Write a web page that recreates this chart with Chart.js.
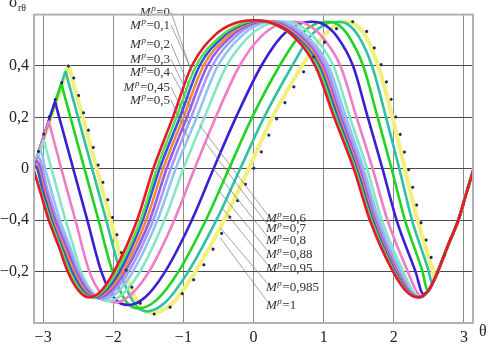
<!DOCTYPE html>
<html>
<head>
<meta charset="utf-8">
<script src="https://cdn.jsdelivr.net/npm/chart.js@4.4.1/dist/chart.umd.min.js"></script>
<style>
  html, body { margin: 0; padding: 0; background: #fff; }
  #wrap { width: 490px; height: 344px; }
</style>
</head>
<body>
<div id="wrap"><canvas id="chart" width="490" height="344"></canvas></div>
<script>
// tick positions and labels as printed on the figure
const xTicks = [-3, -2, -1, 0, 1, 2, 3];
const yTicks = [-0.4, -0.2, 0, 0.2, 0.4];
const yTickLabels = ["\u22120,2", "\u22120,4", "0", "0,2", "0,4"];

// M^p values for each curve
const mValues = ["0", "0,1", "0,2", "0,3", "0,4", "0,45", "0,5", "0,6", "0,7", "0,8", "0,88", "0,95", "0,985", "1"];

// curves: [theta, sigma]
const mp0 = [[-3.14,0],[-3.03,-0.1],[-2.92,-0.2],[-2.78,-0.3],[-2.65,-0.4],[-2.5,-0.472],[-2.35,-0.5],[-2.19,-0.48],[-1.99,-0.4],[-1.66,-0.2],[-1.43,0],[-1.15,0.2],[-0.88,0.4],[-0.55,0.52],[-0.27,0.566],[0,0.578],[0.27,0.566],[0.55,0.52],[0.88,0.4],[1.15,0.2],[1.43,0],[1.66,-0.2],[1.99,-0.4],[2.19,-0.48],[2.35,-0.5],[2.5,-0.472],[2.62,-0.405],[2.77,-0.3],[2.92,-0.2],[3.03,-0.1],[3.14,0]];
const mp01 = [[-3.14,0],[-3.03,-0.09],[-2.9,-0.2],[-2.76,-0.3],[-2.62,-0.4],[-2.47,-0.472],[-2.32,-0.5],[-2.15,-0.477],[-1.95,-0.4],[-1.61,-0.2],[-1.38,0],[-1.1,0.2],[-0.82,0.4],[-0.47,0.515],[-0.19,0.562],[0.05,0.577],[0.29,0.562],[0.57,0.515],[0.91,0.4],[1.175,0.2],[1.45,0],[1.68,-0.2],[2.005,-0.4],[2.2,-0.48],[2.36,-0.5],[2.5,-0.472],[2.62,-0.405],[2.77,-0.3],[2.92,-0.2],[3.03,-0.1],[3.14,0]];
const mp02 = [[-3.14,0],[-3.11,0.01],[-3.0,-0.09],[-2.88,-0.2],[-2.74,-0.3],[-2.59,-0.4],[-2.44,-0.472],[-2.29,-0.5],[-2.12,-0.477],[-1.91,-0.4],[-1.58,-0.2],[-1.34,0],[-1.05,0.2],[-0.77,0.4],[-0.43,0.515],[-0.15,0.562],[0.09,0.576],[0.33,0.562],[0.6,0.515],[0.935,0.4],[1.2,0.2],[1.47,0],[1.7,-0.2],[2.02,-0.4],[2.21,-0.48],[2.365,-0.5],[2.5,-0.472],[2.62,-0.405],[2.77,-0.3],[2.92,-0.2],[3.03,-0.1],[3.14,0]];
const mp03 = [[-3.14,0],[-3.1,0.016],[-2.98,-0.09],[-2.86,-0.2],[-2.71,-0.3],[-2.56,-0.4],[-2.41,-0.472],[-2.26,-0.5],[-2.085,-0.477],[-1.87,-0.4],[-1.53,-0.2],[-1.29,0],[-1.0,0.2],[-0.715,0.4],[-0.37,0.515],[-0.1,0.562],[0.14,0.576],[0.37,0.562],[0.635,0.515],[0.965,0.4],[1.22,0.2],[1.49,0],[1.715,-0.2],[2.035,-0.4],[2.22,-0.48],[2.37,-0.5],[2.5,-0.472],[2.62,-0.405],[2.77,-0.3],[2.92,-0.2],[3.03,-0.1],[3.14,0]];
const mp04 = [[-3.14,0],[-3.09,0.03],[-2.96,-0.09],[-2.83,-0.2],[-2.68,-0.3],[-2.53,-0.4],[-2.375,-0.472],[-2.22,-0.502],[-2.045,-0.478],[-1.83,-0.4],[-1.48,-0.2],[-1.24,0],[-0.95,0.2],[-0.66,0.4],[-0.32,0.515],[-0.05,0.562],[0.19,0.575],[0.41,0.562],[0.67,0.515],[0.99,0.4],[1.245,0.2],[1.51,0],[1.73,-0.2],[2.05,-0.4],[2.23,-0.48],[2.37,-0.5],[2.5,-0.472],[2.62,-0.405],[2.77,-0.3],[2.92,-0.2],[3.03,-0.1],[3.14,0]];
const mp045 = [[-3.14,0],[-3.07,0.045],[-2.94,-0.08],[-2.8,-0.2],[-2.65,-0.3],[-2.5,-0.4],[-2.345,-0.474],[-2.19,-0.505],[-2.005,-0.48],[-1.78,-0.4],[-1.43,-0.2],[-1.18,0],[-0.89,0.2],[-0.59,0.4],[-0.255,0.515],[0.01,0.562],[0.245,0.574],[0.465,0.562],[0.715,0.515],[1.03,0.4],[1.28,0.2],[1.54,0],[1.76,-0.2],[2.075,-0.4],[2.24,-0.48],[2.375,-0.5],[2.5,-0.472],[2.62,-0.405],[2.77,-0.3],[2.92,-0.2],[3.03,-0.1],[3.14,0]];
const mp05 = [[-3.14,0],[-3.04,0.07],[-2.97,0],[-2.76,-0.2],[-2.62,-0.3],[-2.49,-0.4],[-2.31,-0.48],[-2.14,-0.508],[-1.95,-0.483],[-1.72,-0.4],[-1.37,-0.2],[-1.11,0],[-0.81,0.2],[-0.51,0.4],[-0.18,0.515],[0.084,0.562],[0.315,0.574],[0.53,0.562],[0.77,0.515],[1.07,0.4],[1.32,0.2],[1.57,0],[1.79,-0.2],[2.1,-0.4],[2.26,-0.48],[2.38,-0.5],[2.5,-0.472],[2.62,-0.405],[2.77,-0.3],[2.92,-0.2],[3.03,-0.1],[3.14,0]];
const mp06 = [[-3.14,0],[-3.02,0.085],[-2.99,0.11],[-2.96,0.08],[-2.88,0],[-2.68,-0.2],[-2.57,-0.3],[-2.46,-0.4],[-2.28,-0.485],[-2.07,-0.515],[-1.87,-0.488],[-1.62,-0.4],[-1.27,-0.2],[-1.0,0],[-0.7,0.2],[-0.385,0.4],[-0.063,0.515],[0.195,0.562],[0.42,0.573],[0.62,0.562],[0.85,0.515],[1.14,0.4],[1.375,0.2],[1.62,0],[1.83,-0.2],[2.135,-0.4],[2.28,-0.48],[2.385,-0.5],[2.5,-0.472],[2.62,-0.405],[2.77,-0.3],[2.92,-0.2],[3.03,-0.1],[3.14,0]];
const mp07 = [[-3.14,0],[-2.95,0.16],[-2.92,0.184],[-2.89,0.154],[-2.74,0],[-2.54,-0.2],[-2.34,-0.4],[-2.16,-0.49],[-1.97,-0.52],[-1.75,-0.49],[-1.49,-0.4],[-1.13,-0.2],[-0.84,0],[-0.54,0.2],[-0.2,0.4],[0.11,0.515],[0.36,0.562],[0.575,0.572],[0.76,0.562],[0.975,0.515],[1.24,0.4],[1.47,0.2],[1.7,0],[1.91,-0.2],[2.2,-0.4],[2.31,-0.47],[2.4,-0.497],[2.5,-0.472],[2.62,-0.405],[2.77,-0.3],[2.92,-0.2],[3.03,-0.1],[3.14,0]];
const mp08 = [[-3.14,0],[-2.86,0.237],[-2.83,0.26],[-2.8,0.23],[-2.57,0],[-2.37,-0.2],[-2.17,-0.4],[-1.98,-0.505],[-1.78,-0.53],[-1.545,-0.5],[-1.26,-0.4],[-0.88,-0.2],[-0.57,0],[-0.25,0.2],[0.11,0.4],[0.4,0.515],[0.635,0.562],[0.84,0.572],[1.0,0.562],[1.19,0.515],[1.42,0.4],[1.63,0.2],[1.84,0],[2.04,-0.2],[2.31,-0.4],[2.42,-0.487],[2.5,-0.472],[2.62,-0.405],[2.77,-0.3],[2.92,-0.2],[3.03,-0.1],[3.14,0]];
const mp088 = [[-3.14,0],[-2.77,0.306],[-2.74,0.33],[-2.71,0.3],[-2.41,0],[-2.21,-0.2],[-2.01,-0.4],[-1.82,-0.515],[-1.64,-0.543],[-1.38,-0.51],[-1.07,-0.4],[-0.68,-0.2],[-0.35,0],[-0.02,0.2],[0.37,0.4],[0.65,0.515],[0.87,0.562],[1.06,0.572],[1.2,0.562],[1.36,0.515],[1.565,0.4],[1.77,0.2],[1.97,0],[2.16,-0.2],[2.41,-0.4],[2.48,-0.472],[2.62,-0.405],[2.77,-0.3],[2.92,-0.2],[3.03,-0.1],[3.14,0]];
const mp095 = [[-3.14,0],[-2.71,0.355],[-2.68,0.378],[-2.65,0.348],[-2.3,0],[-2.1,-0.2],[-1.9,-0.4],[-1.72,-0.515],[-1.53,-0.555],[-1.26,-0.52],[-0.93,-0.4],[-0.53,-0.2],[-0.19,0],[0.15,0.2],[0.55,0.4],[0.81,0.515],[1.025,0.562],[1.21,0.572],[1.345,0.562],[1.5,0.515],[1.69,0.4],[1.89,0.2],[2.08,0],[2.26,-0.2],[2.5,-0.4],[2.545,-0.447],[2.62,-0.405],[2.77,-0.3],[2.92,-0.2],[3.03,-0.1],[3.14,0]];
const mp0985 = [[-3.14,0],[-2.665,0.377],[-2.635,0.4],[-2.605,0.37],[-2.235,0],[-2.035,-0.2],[-1.835,-0.4],[-1.66,-0.515],[-1.46,-0.562],[-1.18,-0.53],[-0.83,-0.4],[-0.42,-0.2],[-0.07,0],[0.27,0.2],[0.69,0.4],[0.945,0.5],[1.15,0.555],[1.33,0.572],[1.455,0.562],[1.6,0.515],[1.78,0.4],[1.98,0.2],[2.16,0],[2.34,-0.2],[2.56,-0.4],[2.585,-0.427],[2.62,-0.405],[2.77,-0.3],[2.92,-0.2],[3.03,-0.1],[3.14,0]];
const mp1 = [[-3.14,0],[-2.99,0.136],[-2.8,0.29],[-2.65,0.39],[-2.62,0.41],[-2.59,0.38],[-2.2,0],[-2.0,-0.2],[-1.81,-0.4],[-1.68,-0.495],[-1.56,-0.54],[-1.42,-0.565],[-1.28,-0.558],[-1.03,-0.49],[-0.77,-0.4],[-0.51,-0.28],[-0.36,-0.2],[-0.125,-0.066],[0,0],[0.26,0.155],[0.52,0.293],[0.77,0.4],[1.05,0.505],[1.22,0.553],[1.4,0.572],[1.57,0.553],[1.7,0.484],[1.83,0.397],[2.03,0.2],[2.21,0],[2.38,-0.2],[2.5,-0.31],[2.61,-0.405],[2.77,-0.3],[2.92,-0.2],[3.03,-0.1],[3.14,0]];

const curves = [mp0, mp01, mp02, mp03, mp04, mp045, mp05, mp06, mp07, mp08, mp088, mp095, mp0985, mp1];

const lineColors = ["#e8162e", "#55e04a", "#3050e6", "#f28a3a", "#8c5cf2", "#ab97f2", "#8cc6f0",
  "#84e6c4", "#f07cc8", "#3a1fd4", "#22d422", "#2fc2a0", "#f2f078", "#1c2a6c"];

// label anchors (pixels) and leader targets (data) for the two label groups
const leftLabelBase = [16, 29, 48, 63, 76, 91, 104];
const leftTargets = [[-0.9, 0.39], [-0.86, 0.37], [-0.9, 0.31], [-0.9, 0.27], [-0.88, 0.23], [-0.92, 0.175], [-0.93, 0.12]];
const rightLabelBase = [222, 232, 244, 258, 272, 291, 309];
const rightTargets = [[-0.77, 0.17], [-0.68, 0.1], [-0.57, 0], [-0.48, -0.09], [-0.44, -0.155], [-0.47, -0.23], [-0.47, -0.27]];

const SERIF = "'Liberation Serif', 'DejaVu Serif', serif";

function drawMLabel(ctx, val, x, base, rightAlign) {
  ctx.font = "italic 13px " + SERIF;
  const wM = ctx.measureText("M").width;
  ctx.font = "italic 9px " + SERIF;
  const wP = ctx.measureText("p").width;
  ctx.font = "13px " + SERIF;
  const rest = "=" + val;
  const wR = ctx.measureText(rest).width;
  const total = wM + wP + 1 + wR;
  const x0 = rightAlign ? x - total : x;
  ctx.fillStyle = "#333";
  ctx.textBaseline = "alphabetic";
  ctx.textAlign = "left";
  ctx.font = "italic 13px " + SERIF;
  ctx.fillText("M", x0, base);
  ctx.font = "italic 9px " + SERIF;
  ctx.fillText("p", x0 + wM + 0.5, base - 5);
  ctx.font = "13px " + SERIF;
  ctx.fillText(rest, x0 + wM + wP + 1, base);
  return [x0, x0 + total];
}

const decor = {
  id: "decor",
  afterDatasetsDraw(chart) {
    const { ctx, scales: { x, y } } = chart;
    ctx.save();
    ctx.strokeStyle = "#7a7a7a";
    ctx.lineWidth = 0.7;
    for (let i = 0; i < 7; i++) {
      const ext = drawMLabel(ctx, mValues[i], 170, leftLabelBase[i], true);
      const t = leftTargets[i];
      ctx.beginPath();
      ctx.moveTo(ext[1] + 1, leftLabelBase[i] - 4);
      ctx.lineTo(x.getPixelForValue(t[0]), y.getPixelForValue(t[1]));
      ctx.stroke();
    }
    for (let i = 0; i < 7; i++) {
      const ext = drawMLabel(ctx, mValues[i + 7], 266, rightLabelBase[i], false);
      const t = rightTargets[i];
      ctx.beginPath();
      ctx.moveTo(ext[0] + 1, rightLabelBase[i] - 8);
      ctx.lineTo(x.getPixelForValue(t[0]), y.getPixelForValue(t[1]));
      ctx.stroke();
    }
    ctx.restore();
  },
  afterDraw(chart) {
    const { ctx, chartArea: a } = chart;
    ctx.save();
    ctx.strokeStyle = "#b2b2b2";
    ctx.lineWidth = 2;
    ctx.strokeRect(a.left, a.top, a.right - a.left, a.bottom - a.top);
    ctx.fillStyle = "#222";
    ctx.textBaseline = "alphabetic";
    ctx.font = "16px " + SERIF;
    ctx.fillText("\u03c3", 9, 7);
    ctx.font = "10px " + SERIF;
    ctx.fillText("r\u03b8", 18, 11);
    ctx.font = "16px " + SERIF;
    ctx.fillText("\u03b8", 479, 336);
    ctx.restore();
  }
};

const datasets = curves.map((pts, i) => {
  const last = i === curves.length - 1;
  return {
    label: "M^p=" + mValues[i],
    data: pts.map(p => ({ x: p[0], y: p[1] })),
    borderColor: lineColors[i],
    borderWidth: last ? 3 : (i === 12 ? 4 : 2.6),
    borderDash: last ? [0.1, 18] : [],
    borderCapStyle: last ? "round" : "butt",
    pointRadius: 0,
    fill: false,
    cubicInterpolationMode: "monotone",
    order: i === 0 ? 0 : (last ? 1 : i + 1)
  };
});

new Chart(document.getElementById("chart"), {
  type: "line",
  data: { datasets: datasets },
  options: {
    responsive: false,
    animation: false,
    layout: { padding: { top: 4, right: 17, bottom: 0, left: 0 } },
    plugins: { legend: { display: false }, tooltip: { enabled: false } },
    scales: {
      x: {
        type: "linear",
        min: -3.13,
        max: 3.13,
        afterBuildTicks: (s) => { s.ticks = xTicks.map(v => ({ value: v })); },
        afterFit: (s) => { s.height = 21; },
        ticks: {
          padding: 5,
          color: "#222",
          font: { family: SERIF, size: 16 },
          callback: (v) => (v < 0 ? "\u2212" + Math.abs(v) : String(v))
        },
        grid: { color: "#8c8c8c", lineWidth: 1, drawTicks: false },
        border: { display: false }
      },
      y: {
        min: -0.6,
        max: 0.6,
        afterBuildTicks: (s) => { s.ticks = yTicks.map(v => ({ value: v })); },
        afterFit: (s) => { s.width = 34; },
        ticks: {
          padding: 5,
          color: "#222",
          font: { family: SERIF, size: 16 },
          callback: (v, idx) => yTickLabels[idx]
        },
        grid: { color: "#4a4a4a", lineWidth: 1, drawTicks: false },
        border: { display: false }
      }
    }
  },
  plugins: [decor]
});
</script>
</body>
</html>
